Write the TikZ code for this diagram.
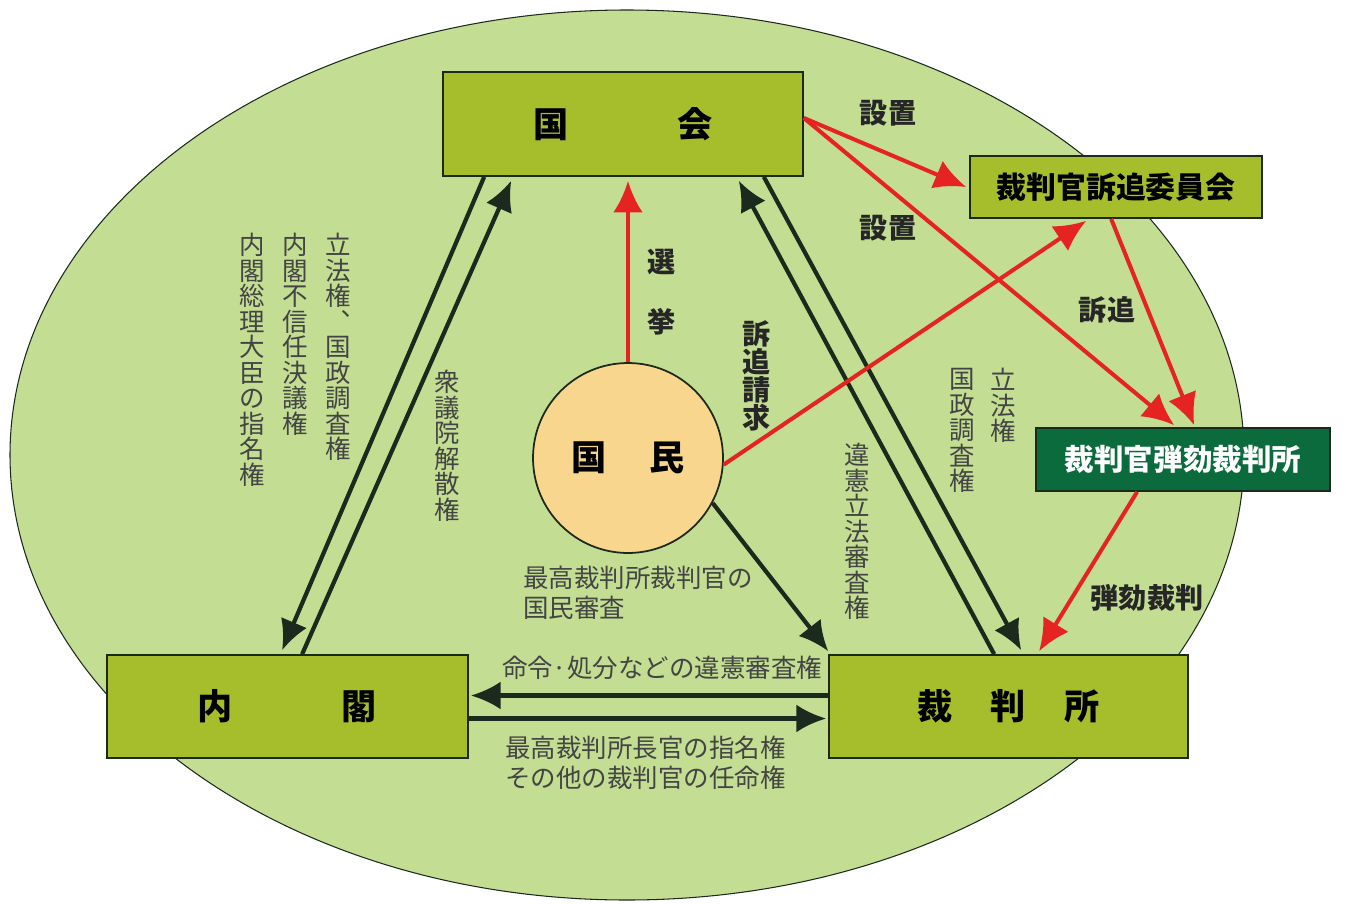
\documentclass[tikz,border=0pt]{standalone}
\usepackage{fontspec}
\setmainfont{Noto Sans CJK JP}
\usetikzlibrary{arrows.meta,calc}

\definecolor{fieldGreen}{HTML}{C3DD93}
\definecolor{boxOlive}{HTML}{A6BE2C}
\definecolor{courtGreen}{HTML}{0B6B3C}
\definecolor{peopleTan}{HTML}{F9D68E}
\definecolor{arrowRed}{HTML}{E52421}
\definecolor{arrowDark}{HTML}{1C2A1E}
\definecolor{labelGray}{HTML}{444444}

\begin{document}
\begin{tikzpicture}[x=0.02cm, y=-0.02cm,
    organ/.style={draw=arrowDark, line width=1pt, fill=boxOlive, inner sep=0pt,
        font=\bfseries\fontsize{20}{24}\selectfont},
    darkArrow/.style={draw=arrowDark, line width=2.4pt, -{Latex[length=17pt, width=16pt]}},
    redArrow/.style={draw=arrowRed, line width=2.3pt, -{Latex[length=18pt, width=17pt]}},
    boldLabel/.style={text=black!85, inner sep=0pt, font=\bfseries\fontsize{16}{16}\selectfont},
    thinLabel/.style={text=labelGray, inner sep=0pt, font=\fontsize{14.5}{17}\selectfont},
    tateLabel/.style={text=labelGray, inner sep=0pt, align=center, anchor=north,
        font=\fontsize{14.5}{14.5}\selectfont}]
    \useasboundingbox (0,0) rectangle (1346,903);
    % background field
    \draw[fill=fieldGreen, draw=arrowDark, line width=0.6pt] (627,455) ellipse [x radius=617, y radius=445];

    % organs
    \node[organ, minimum width=7.2cm, minimum height=2.08cm] (kokkai) at (623,124) {国\hspace{62pt}会};
    \node[organ, minimum width=7.22cm, minimum height=2.06cm] (naikaku) at (287.5,706.5) {内\hspace{62pt}閣};
    \node[organ, minimum width=7.18cm, minimum height=2.06cm] (saibansho) at (1008.5,706.5) {裁\hspace{22pt}判\hspace{22pt}所};
    \node[organ, minimum width=5.84cm, minimum height=1.24cm,
        font=\bfseries\fontsize{17}{20}\selectfont] (sotsui) at (1116,187) {裁判官訴追委員会};
    \node[organ, fill=courtGreen, text=white, minimum width=5.88cm, minimum height=1.26cm,
        font=\bfseries\fontsize{16.8}{20}\selectfont] (dangai) at (1183,459.5) {裁判官弾劾裁判所};
    \node[circle, draw=arrowDark, line width=1pt, fill=peopleTan, minimum size=3.8cm, inner sep=0pt,
        font=\bfseries\fontsize{20}{24}\selectfont] (kokumin) at (628,458) {国\hspace{24pt}民};

    % bold labels
    \node[boldLabel] (secchiA) at (888,113) {設置};
    \node[boldLabel] (secchiB) at (888,228) {設置};
    \node[boldLabel, align=center, font=\bfseries\fontsize{16}{34}\selectfont] (senkyo) at (662,292) {選\\挙};
    \node[boldLabel, align=center] (seikyu) at (757,376) {訴\\追\\請\\求};
    \node[boldLabel] (sotsuiLabel) at (1107,310) {訴追};
    \node[boldLabel] (dangaiLabel) at (1147,598) {弾劾裁判};

    % thin labels
    \node[thinLabel, align=left, anchor=west] (shinsa) at (523,593) {最高裁判所裁判官の\\国民審査};
    \node[thinLabel] (meirei) at (662,668) {命令·処分などの違憲審査権};
    \node[thinLabel, align=left, anchor=west] (ninmei) at (505,763) {最高裁判所長官の指名権\\その他の裁判官の任命権};
    \node[tateLabel] (rippoA) at (338,233) {立\\法\\権\\︑\\国\\政\\調\\査\\権};
    \node[tateLabel] (fushinnin) at (295,233) {内\\閣\\不\\信\\任\\決\\議\\権};
    \node[tateLabel] (shimei) at (252,233) {内\\閣\\総\\理\\大\\臣\\の\\指\\名\\権};
    \node[tateLabel] (kaisan) at (447,370) {衆\\議\\院\\解\\散\\権};
    \node[tateLabel] (iken) at (857,443) {違\\憲\\立\\法\\審\\査\\権};
    \node[tateLabel] (chosa) at (962,368) {国\\政\\調\\査\\権};
    \node[tateLabel] (rippoB) at (1003,368) {立\\法\\権};

    % kokkai <-> naikaku
    \draw[darkArrow] ($(kokkai.south west)+(42,0)$) -- ($(naikaku.north west)+(176,-4)$);
    \draw[darkArrow] ($(naikaku.north west)+(196,0)$) -- ($(kokkai.south west)+(69,4)$);
    % kokkai <-> saibansho
    \draw[darkArrow] ($(saibansho.north west)+(166,0)$) -- ($(kokkai.south east)+(-65,4)$);
    \draw[darkArrow] ($(kokkai.south east)+(-40,0)$) -- ($(saibansho.north west)+(193,-4)$);
    % naikaku <-> saibansho
    \draw[darkArrow] ($(saibansho.west)+(0,-11)$) -- ($(naikaku.east)+(2,-11)$);
    \draw[darkArrow] ($(naikaku.east)+(0,12)$) -- ($(saibansho.west)+(-2,12)$);
    \draw[darkArrow] (kokumin.-28) -- ($(saibansho.north west)+(0,-3)$);

    % red arrows
    \draw[redArrow] (kokumin.north) -- ($(kokumin.north |- kokkai.south)+(0,4)$);
    \draw[redArrow] (kokumin.-4) -- ($(sotsui.south west)+(117,2)$);
    \draw[redArrow] ($(kokkai.east)+(0,-6)$) -- ($(sotsui.west)+(-3,0)$);
    \draw[redArrow] ($(kokkai.east)+(0,-6)$) -- ($(dangai.north west)+(139,-2)$);
    \draw[redArrow] ($(sotsui.south west)+(142,0)$) -- ($(dangai.north west)+(159,-2)$);
    \draw[redArrow] ($(dangai.south west)+(102,0)$) -- ($(saibansho.north west)+(211,-3)$);
\end{tikzpicture}
\end{document}
